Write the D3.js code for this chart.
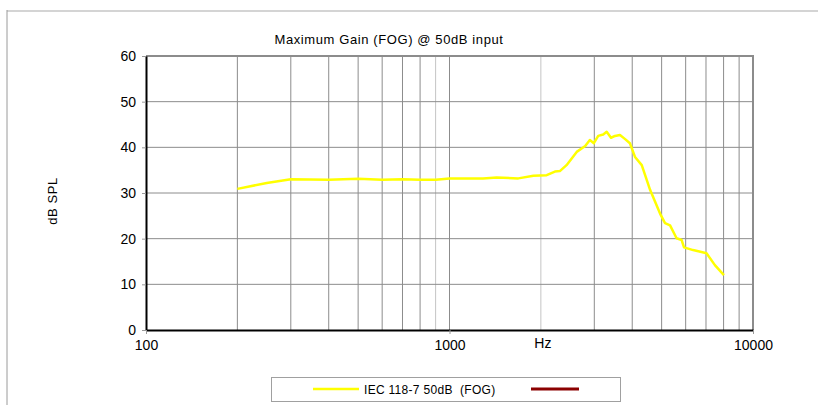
<!DOCTYPE html>
<html>
<head>
<meta charset="utf-8">
<script src="https://cdn.jsdelivr.net/npm/d3@7"></script>
<style>
  body { margin: 0; background: #fff; }
  svg text { font-family: "Liberation Sans", Arial, sans-serif; fill: #000; }
</style>
</head>
<body>
<script>
// frequency response
var freqs = [200, 250, 300, 400, 500, 600, 700, 800, 900, 1000, 1110, 1290, 1430, 1685, 1890,
    2090, 2225, 2310, 2430, 2625, 2800, 2900, 2990, 3090, 3210, 3295, 3405, 3510, 3645,
    3790, 3930, 4085, 4300, 4580, 4940, 5130, 5330, 5600, 5820, 5925, 6350, 7030, 7490, 8020];
var gains = [30.9, 32.2, 33.0, 32.9, 33.1, 32.9, 33.0, 32.9, 32.9, 33.2, 33.2, 33.2, 33.4, 33.2, 33.8,
    33.9, 34.7, 34.8, 36.1, 39.0, 40.3, 41.6, 40.9, 42.5, 42.8, 43.4, 42.1, 42.5, 42.7,
    41.8, 40.9, 37.9, 36.1, 30.7, 25.5, 23.4, 22.9, 20.1, 19.7, 18.1, 17.5, 16.8, 14.2, 12.0];

var yTicks = [0, 10, 20, 30, 40, 50, 60];
var xLabels = [100, 1000, 10000];
var xGrid = [200, 300, 400, 500, 600, 700, 800, 900, 1000, 2000, 3000, 4000, 5000, 6000, 7000, 8000, 9000];

var W = 818, H = 405;
var margin = {top: 56, right: 65, bottom: 75, left: 146}
    , width = W - margin.left - margin.right
    , height = H - margin.top - margin.bottom;

var svg = d3.select('body').append('svg').attr('width', W).attr('height', H);

// outer chart frame (runs off the page)
svg.append('line').attr('x1', 7).attr('x2', W).attr('y1', 11).attr('y2', 11)
    .attr('stroke', '#d4d4d4').attr('stroke-width', 2);
svg.append('line').attr('x1', 7).attr('x2', 7).attr('y1', 10).attr('y2', H)
    .attr('stroke', '#9a9a9a').attr('stroke-width', 1);

var main = svg.append('g')
    .attr('transform', 'translate(' + margin.left + ',' + margin.top + ')');

var xscale = d3.scaleLog().domain([100, 10000]).range([0, width]);
var yscale = d3.scaleLinear().domain([0, 60]).range([height, 0]);

// grid
main.selectAll('.vgrid').data(xGrid).enter().append('line')
    .attr('x1', function (d) { return xscale(d); })
    .attr('x2', function (d) { return xscale(d); })
    .attr('y1', 0).attr('y2', height)
    .attr('stroke', function (d) { return (d == 900 || d == 2000) ? '#c4c4c4' : '#8c8c8c'; })
    .attr('stroke-width', 1);
main.selectAll('.hgrid').data(yTicks.slice(1, -1)).enter().append('line')
    .attr('x1', 0).attr('x2', width)
    .attr('y1', function (d) { return yscale(d); })
    .attr('y2', function (d) { return yscale(d); })
    .attr('stroke', '#8c8c8c').attr('stroke-width', 1);

// top / right border
main.append('line').attr('x1', 0).attr('x2', width).attr('y1', 0).attr('y2', 0)
    .attr('stroke', '#8c8c8c').attr('stroke-width', 2);
main.append('line').attr('x1', width).attr('x2', width).attr('y1', -1).attr('y2', height)
    .attr('stroke', '#8c8c8c').attr('stroke-width', 2);

// axes
var yAxis = d3.axisLeft(yscale).tickValues(yTicks).tickSize(4).tickPadding(6).tickSizeOuter(0);
var gy = main.append('g').call(yAxis);
gy.select('.domain').attr('stroke', '#000').attr('stroke-width', 2);
gy.selectAll('.tick line').attr('stroke', '#999');
gy.selectAll('text').style('font-size', '14px').attr('fill', '#000');

var xAxis = d3.axisBottom(xscale).tickValues(xLabels).tickFormat(d3.format('d'))
    .tickSize(4).tickPadding(6).tickSizeOuter(0);
var gx = main.append('g').attr('transform', 'translate(0,' + height + ')').call(xAxis);
gx.select('.domain').attr('stroke', '#000').attr('stroke-width', 2);
gx.selectAll('.tick line').attr('stroke', '#999');
gx.selectAll('text').style('font-size', '14px').attr('fill', '#000');

// the curve
var line = d3.line()
    .x(function (d, i) { return xscale(freqs[i]); })
    .y(function (d) { return yscale(d); });
main.append('path').datum(gains)
    .attr('d', line)
    .attr('fill', 'none')
    .attr('stroke', '#ffff00')
    .attr('stroke-width', 2.5)
    .attr('stroke-linejoin', 'round');

// labels
svg.append('text').attr('x', 389).attr('y', 44).attr('text-anchor', 'middle')
    .style('font-size', '13px').style('letter-spacing', '0.6px')
    .text('Maximum Gain (FOG) @ 50dB input');
main.append('text').attr('x', xscale(2000) + 2).attr('y', height + 18).attr('text-anchor', 'middle')
    .style('font-size', '14px').text('Hz');
svg.append('text').attr('transform', 'translate(57,201) rotate(-90)')
    .attr('text-anchor', 'middle').style('font-size', '13px').style('letter-spacing', '0.6px')
    .text('dB SPL');

// legend
var lg = svg.append('g');
lg.append('rect').attr('x', 271.5).attr('y', 377.5).attr('width', 349).attr('height', 24)
    .attr('fill', '#fff').attr('stroke', '#a0a0a0').attr('stroke-width', 1);
lg.append('line').attr('x1', 313).attr('x2', 359).attr('y1', 389).attr('y2', 389)
    .attr('stroke', '#ffff00').attr('stroke-width', 2.5);
lg.append('text').attr('x', 364).attr('y', 393.5).style('font-size', '12px')
    .style('letter-spacing', '0.3px').style('white-space', 'pre')
    .text('IEC 118-7 50dB  (FOG)');
lg.append('line').attr('x1', 531).attr('x2', 579).attr('y1', 389).attr('y2', 389)
    .attr('stroke', '#8b0000').attr('stroke-width', 3);
</script>
</body>
</html>
